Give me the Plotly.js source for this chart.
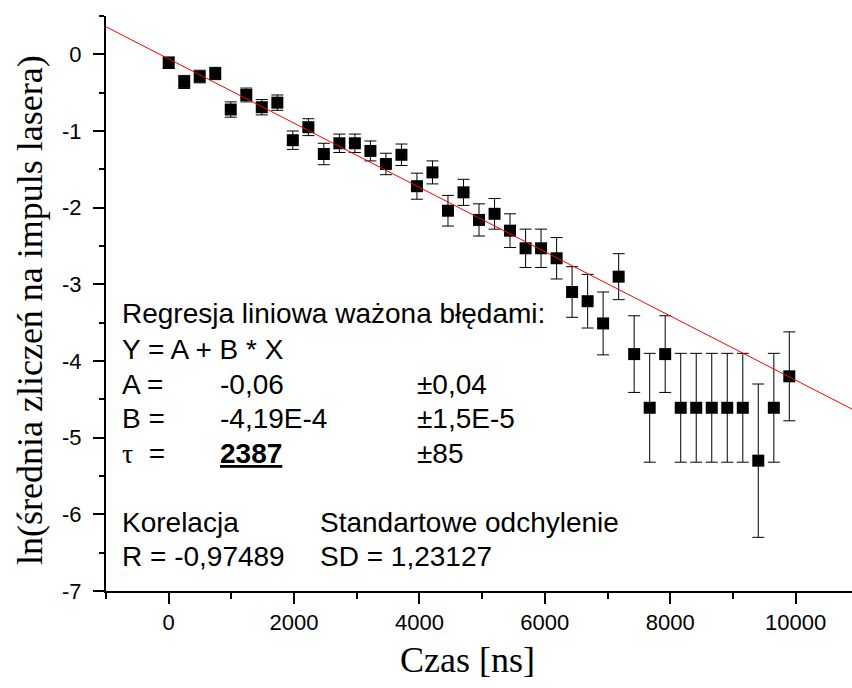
<!DOCTYPE html>
<html>
<head>
<meta charset="utf-8">
<script src="https://cdn.plot.ly/plotly-3.0.1.min.js"></script>
<style>
  html, body { margin: 0; padding: 0; background: #ffffff; }
  #chart { width: 852px; height: 688px; }
</style>
</head>
<body>
<div id="chart"></div>
<script>
// Delay after the laser pulse [ns]
const timeNs = [
  0, 248, 495, 743, 990, 1238, 1485, 1733, 1980, 2228,
  2475, 2723, 2970, 3218, 3465, 3713, 3960, 4208, 4455, 4703,
  4950, 5198, 5445, 5693, 5940, 6188, 6435, 6683, 6930, 7178,
  7425, 7673, 7920, 8168, 8415, 8663, 8910, 9158, 9405, 9653,
  9900
];

// ln(mean counts per laser pulse)
const lnCounts = [
  -0.11, -0.36, -0.29, -0.25, -0.72, -0.53, -0.69, -0.63, -1.12, -0.95,
  -1.30, -1.16, -1.16, -1.26, -1.43, -1.31, -1.72, -1.54, -2.04, -1.80,
  -2.16, -2.08, -2.30, -2.53, -2.53, -2.66, -3.10, -3.22, -3.51, -2.90,
  -3.91, -4.61, -3.91, -4.61, -4.61, -4.61, -4.61, -4.61, -5.30, -4.61,
  -4.20
];

// Uncertainty of each point
const lnErrors = [
  0.075, 0.085, 0.082, 0.080, 0.10, 0.09, 0.10, 0.10, 0.12, 0.11,
  0.14, 0.12, 0.12, 0.13, 0.14, 0.14, 0.17, 0.15, 0.20, 0.17,
  0.21, 0.20, 0.22, 0.25, 0.25, 0.27, 0.33, 0.35, 0.41, 0.30,
  0.50, 0.71, 0.50, 0.71, 0.71, 0.71, 0.71, 0.71, 1.00, 0.71,
  0.58
];

// Weighted linear fit  Y = A + B * X
const fitA = -0.06;
const fitB = -4.19e-4;

// Axis ticks
const xTickVals = [0, 2000, 4000, 6000, 8000, 10000];
const xTickText = ['0', '2000', '4000', '6000', '8000', '10000'];
const yTickVals = [-7, -6, -5, -4, -3, -2, -1, 0];
const yTickText = ['-7', '-6', '-5', '-4', '-3', '-2', '-1', '0'];

// Axis titles
const xTitle = 'Czas [ns]';
const yTitle = 'ln(średnia zliczeń na impuls lasera)';

// Fit summary text
const fitHeader = 'Regresja liniowa ważona błędami:';
const fitModel = 'Y = A + B * X';
const paramNames = ['A =', 'B =', '<span style="font-family:\'Liberation Serif\', serif">τ</span>\u00A0\u00A0='];
const paramValues = ['-0,06', '-4,19E-4', '<b><u>2387</u></b>'];
const paramErrors = ['±0,04', '±1,5E-5', '±85'];
const statNames = ['Korelacja', 'Standartowe odchylenie'];
const statValues = ['R = -0,97489', 'SD = 1,23127'];

// ---- plot geometry (pixels) ----
const W = 852, H = 688;
const M = { l: 106, r: 0, t: 16, b: 97 };
const PW = W - M.l - M.r, PH = H - M.t - M.b;
const px = x => (x - M.l) / PW;           // page x -> paper x
const py = y => (H - M.b - y) / PH;       // page y -> paper y

const xRange = [-1000, 10900];
const yRange = [-7, 0.5];

const data = [
  {
    type: 'scatter',
    mode: 'markers',
    x: timeNs,
    y: lnCounts,
    marker: { symbol: 'square', size: 12, color: '#000000', line: { width: 0 } },
    error_y: { type: 'data', array: lnErrors, visible: true, color: '#000000', thickness: 1, width: 6 },
    hoverinfo: 'x+y'
  },
  {
    type: 'scatter',
    mode: 'lines',
    x: xRange,
    y: xRange.map(x => fitA + fitB * x),
    line: { color: '#ff0000', width: 1 },
    hoverinfo: 'skip'
  }
];

const textFont = { family: 'Liberation Sans, Arial, sans-serif', size: 28, color: '#000000' };
const note = (text, x, y, extra) => Object.assign({
  text: text, xref: 'paper', yref: 'paper', x: px(x), y: py(y),
  xanchor: 'left', yanchor: 'middle', showarrow: false, font: textFont
}, extra || {});

const rowY = [314, 349.5, 384, 418.5, 453, 522, 556.5];
const colX = [120, 218, 415, 318];

const annotations = [
  note(fitHeader, colX[0], rowY[0]),
  note(fitModel, colX[0], rowY[1]),
  note(statNames[0], colX[0], rowY[5]),
  note(statNames[1], colX[3], rowY[5]),
  note(statValues[0], colX[0], rowY[6]),
  note(statValues[1], colX[3], rowY[6]),
  // axis titles
  {
    text: xTitle, xref: 'paper', yref: 'paper', x: px(467), y: py(660),
    xanchor: 'center', yanchor: 'middle', showarrow: false,
    font: { family: 'Liberation Serif, Times New Roman, serif', size: 36, color: '#000000' }
  },
  {
    text: yTitle, xref: 'paper', yref: 'paper', x: px(30), y: py(310),
    xanchor: 'center', yanchor: 'middle', showarrow: false, textangle: -90,
    font: { family: 'Liberation Serif, Times New Roman, serif', size: 36, color: '#000000' }
  }
];
paramNames.forEach((name, i) => {
  annotations.push(note(name, colX[0], rowY[2 + i]));
  annotations.push(note(paramValues[i], colX[1], rowY[2 + i]));
  annotations.push(note(paramErrors[i], colX[2], rowY[2 + i]));
});

const axisCommon = {
  showline: true, linewidth: 2, linecolor: '#000000',
  ticks: 'outside', ticklen: 11, tickwidth: 2, tickcolor: '#000000',
  showgrid: false, zeroline: false, fixedrange: true,
  tickfont: { family: 'Liberation Sans, Arial, sans-serif', size: 22, color: '#000000' }
};

const layout = {
  width: W, height: H,
  margin: { l: M.l, r: M.r, t: M.t, b: M.b, pad: 0 },
  paper_bgcolor: '#ffffff', plot_bgcolor: '#ffffff',
  showlegend: false,
  xaxis: Object.assign({}, axisCommon, {
    range: xRange, tickmode: 'array', tickvals: xTickVals, ticktext: xTickText,
    minor: { tickmode: 'linear', tick0: -1000, dtick: 2000, ticks: 'outside', ticklen: 6, tickwidth: 2, tickcolor: '#000000', showgrid: false }
  }),
  yaxis: Object.assign({}, axisCommon, {
    range: yRange, tickmode: 'array', tickvals: yTickVals, ticktext: yTickText,
    ticklabelstandoff: 7,
    minor: { tickmode: 'linear', tick0: -6.5, dtick: 1, ticks: 'outside', ticklen: 5, tickwidth: 2, tickcolor: '#000000', showgrid: false }
  }),
  annotations: annotations
};

Plotly.newPlot('chart', data, layout, { displayModeBar: false, staticPlot: true });
</script>
</body>
</html>
